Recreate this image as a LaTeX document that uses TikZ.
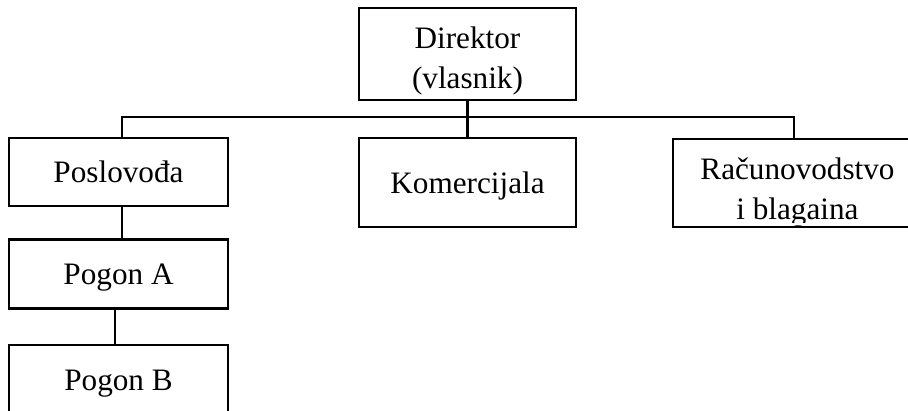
\documentclass[tikz,border=0pt]{standalone}
\usepackage{fontspec}
\setmainfont{Liberation Serif}
\usetikzlibrary{positioning}

\begin{document}
\begin{tikzpicture}[
  x=0.75pt, y=-0.75pt,
  node distance=23pt and 0pt,
  unit/.style={rectangle, draw=black, line width=2pt, fill=white,
               minimum width=164.25pt, minimum height=51pt, align=center, inner sep=0pt,
               text height=16pt, text depth=0pt, font=\fontsize{23.4}{30}\selectfont},
  link/.style={line width=2pt, black}
]
\useasboundingbox (0,0) rectangle (908,411);

% top level
\node[unit, minimum width=162.75pt, minimum height=69pt, text height=51pt] (dir) at (467.5,54) {Direktor\\(vlasnik)};
\node[unit, minimum width=162.75pt, minimum height=66.75pt] (kom) at (467.5,182.5) {Komercijala};
\node[unit] (pos) at (118.5,172) {Poslovođa};
\begin{scope}
  % text box cut off at the bottom
  \clip (660,130) rectangle (930,222) (660,225) rectangle (930,240) (660,130) rectangle (678,240);
  \node[unit, minimum width=186.75pt, minimum height=66pt, text height=54pt] (rac) at (797.5,183) {Računovodstvo\\i blagaina};
\end{scope}

% production
\node[unit, minimum height=51.75pt, below=23pt of pos] (poga) {Pogon A};
\node[unit, minimum height=52.5pt, below=25.5pt of poga] (pogb) {Pogon B};

\coordinate (bus) at (467.5,117);
\draw[link] (dir) -- (kom);
\draw[link] ([xshift=2.6pt]pos.north) |- (bus) -| ([xshift=-2.6pt]rac.north);
\draw[link] ([xshift=2.6pt]pos.south) -- ([xshift=2.6pt]poga.north);
\draw[link] ([xshift=-2.6pt]poga.south) -- ([xshift=-2.6pt]pogb.north);
\end{tikzpicture}
\end{document}
